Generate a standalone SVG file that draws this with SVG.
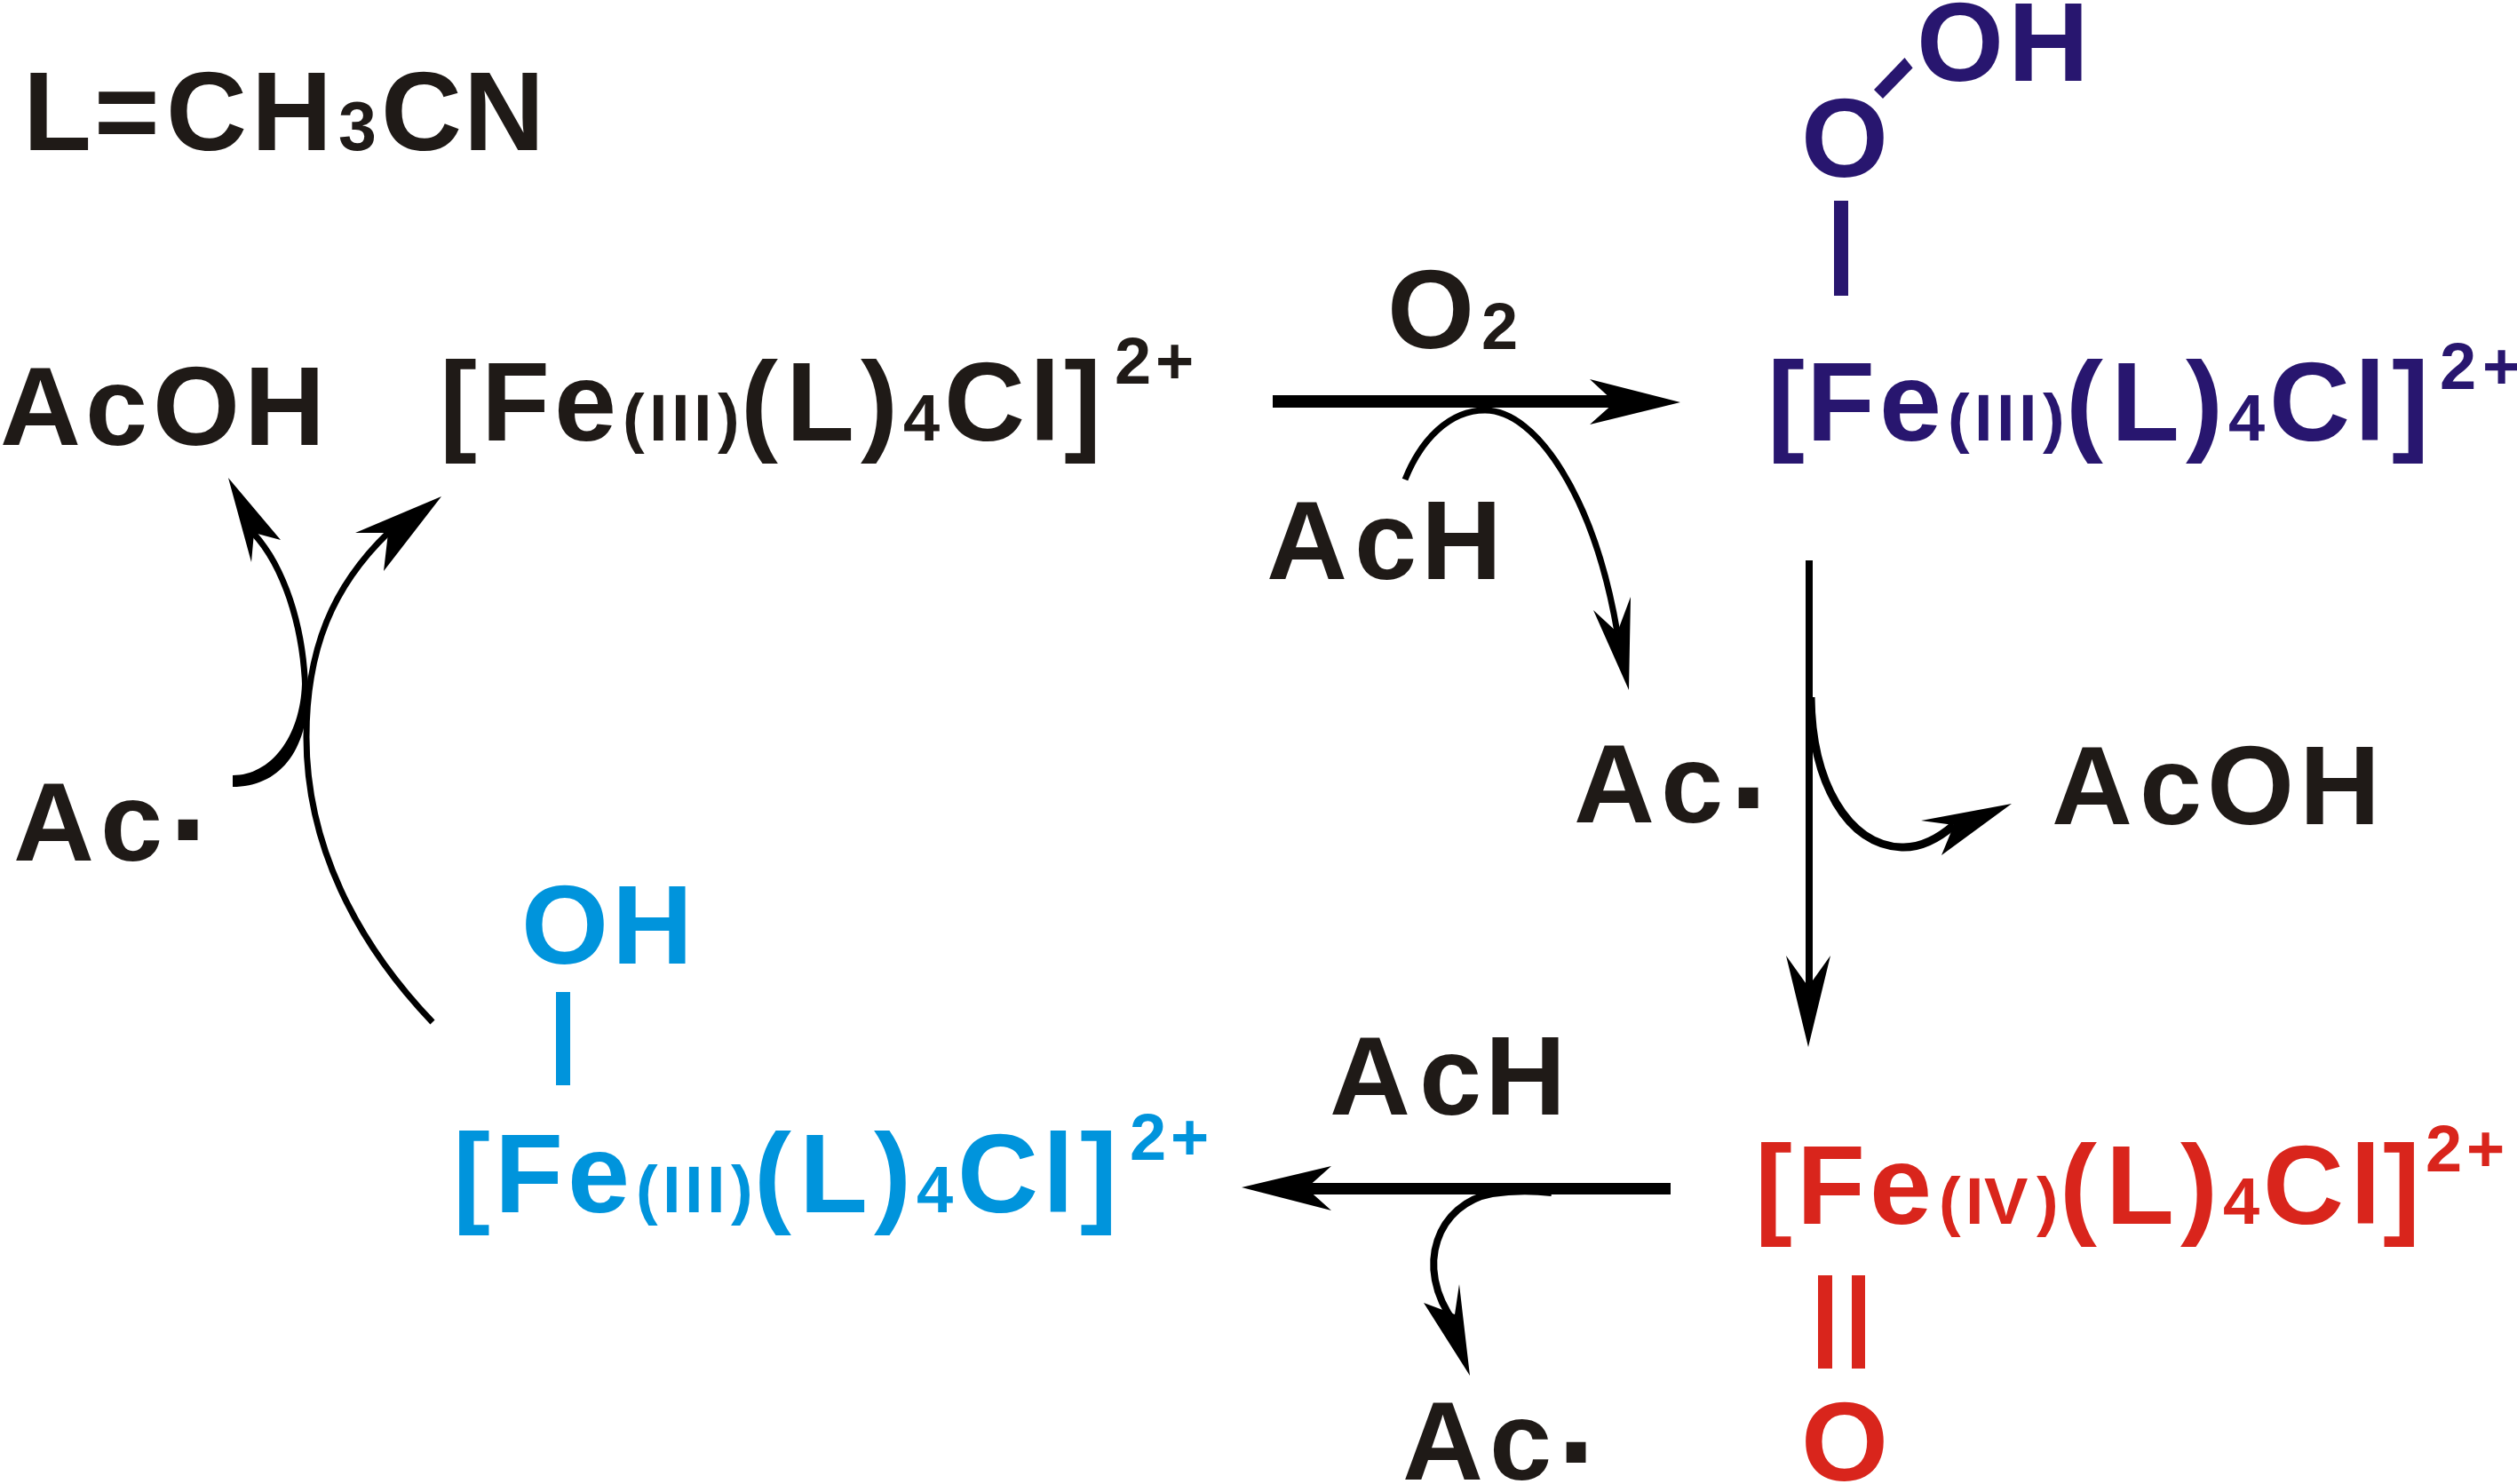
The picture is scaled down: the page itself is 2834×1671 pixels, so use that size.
<svg xmlns="http://www.w3.org/2000/svg" width="2834" height="1671" viewBox="0 0 2834 1671">
<style>
text{font-family:"Liberation Sans",Arial,sans-serif;font-weight:700;font-size:126px}
.s{font-size:74px}
.d{font-size:155px}
.k{fill:#1f1a17}.p{fill:#28166f}.b{fill:#0094dc}.r{fill:#d9251c}
.c{fill:none;stroke:#000;stroke-width:7}
.h{fill:#000}
</style>
<rect width="2834" height="1671" fill="#fff"/>
<g id="connectors">
<rect x="1433" y="445" width="390" height="14" class="h"/>
<polygon class="h" points="1892,453 1790,427 1818,453 1790,478"/>
<path class="c" d="M1582,540C1600,495 1632,462 1672,462C1730,462 1795,560 1821,712"/>
<polygon class="h" points="1834,777 1794,687 1821,712 1836,672"/>
<rect x="2033" y="631" width="8" height="490" class="h"/>
<polygon class="h" points="2036,1179 2011,1076 2036,1111 2061,1076"/>
<path class="c" style="stroke-width:9" d="M2039,785C2040,880 2080,952 2141,954C2165,955 2185,942 2200,929"/>
<polygon class="h" points="2265,905 2163,924 2200,929 2186,963"/>
<rect x="1470" y="1332" width="411" height="13" class="h"/>
<polygon class="h" points="1398,1337 1499,1313 1471,1338 1499,1363"/>
<path class="c" style="stroke-width:8" d="M1747,1343C1720,1340 1700,1341 1680,1344C1620,1355 1590,1425 1638,1490"/>
<polygon class="h" points="1655,1549 1603,1467 1638,1480 1643,1446"/>
<path class="h" d="M262,873C305,873 338,830 340,770C338,710 318,640 282,602L288,598C326,640 345,710 347,770C349,845 315,886 262,886Z"/>
<polygon class="h" points="257,538 283,633 286,600 316,608"/>
<path class="c" d="M487,1151C400,1060 345,950 345,830C345,730 375,660 437,600"/>
<polygon class="h" points="497,559 400,600 437,600 432,643"/>
</g>
<g id="ligand"><text class="k" y="169" x="26 106 187 283">L=CH</text><text class="k s" style="font-size:77px" x="381" y="169">3</text><text class="k" y="169" x="429 522">CN</text></g>
<g id="acoh-left"><text class="k" y="501" x="0 96 172 275">AcOH</text></g>
<g id="fe3-black"><text class="k" y="496" x="495 542 624">[Fe</text><text class="k s" y="496" x="701 731 756 781 808">(III)</text><text class="k" y="496" x="834 885 969">(L)</text><text class="k s" y="496" x="1017">4</text><text class="k" y="496" x="1063 1159 1198">Cl]</text><text class="k s" y="432" x="1255 1301">2+</text></g>
<g id="o2"><text class="k" y="392" x="1562">O</text><text class="k s" y="393" x="1668">2</text></g>
<g id="ach-top"><text class="k" y="652" x="1426 1525 1600">AcH</text></g>
<g id="fe3-ooh">
<text class="p" y="496" x="1990 2034 2116">[Fe</text><text class="p s" y="496" x="2193 2223 2248 2273 2300">(III)</text><text class="p" y="496" x="2326 2377 2461">(L)</text><text class="p s" y="496" x="2509">4</text><text class="p" y="496" x="2555 2651 2693">Cl]</text><text class="p s" y="438" x="2747 2795">2+</text>
<text class="p" y="199" x="2028">O</text><text class="p" y="91" x="2158 2261">OH</text>
<rect x="2065" y="226" width="16" height="107" class="p"/>
<polygon class="p" points="2144.5,65 2153.6,76.5 2120,111 2110,101"/></g>
<g id="ac-right"><text class="k" y="926" x="1772 1870">Ac</text><text class="k d" y="950" x="1947">·</text></g>
<g id="acoh-right"><text class="k" y="928" x="2310 2409 2485 2589">AcOH</text></g>
<g id="ach-bottom"><text class="k" y="1255" x="1497 1598 1672">AcH</text></g>
<g id="fe4-oxo"><text class="r" y="1378" x="1976 2023 2105">[Fe</text><text class="r s" y="1378" x="2183 2213 2234 2293">(IV)</text><text class="r" y="1378" x="2319 2371 2455">(L)</text><text class="r s" y="1378" x="2503">4</text><text class="r" y="1378" x="2548 2646 2683">Cl]</text><text class="r s" y="1319" x="2731 2777">2+</text>
<rect x="2047" y="1436" width="16" height="105" class="r"/><rect x="2085" y="1436" width="15" height="105" class="r"/>
<text class="r" y="1667" x="2028">O</text></g>
<g id="ac-bottom"><text class="k" y="1666" x="1579 1677">Ac</text><text class="k d" y="1687" x="1753">·</text></g>
<g id="fe3-oh"><text class="b" y="1365" x="510 557 639">[Fe</text><text class="b s" y="1365" x="716 746 771 796 823">(III)</text><text class="b" y="1365" x="849 900 984">(L)</text><text class="b s" y="1365" x="1032">4</text><text class="b" y="1365" x="1078 1174 1216">Cl]</text><text class="b s" y="1306" x="1272 1318">2+</text>
<text class="b" y="1085" x="587 689">OH</text>
<rect x="626" y="1117" width="16" height="105" class="b"/></g>
<g id="ac-left"><text class="k" y="969" x="15 113">Ac</text><text class="k d" y="986" x="190">·</text></g>
</svg>
